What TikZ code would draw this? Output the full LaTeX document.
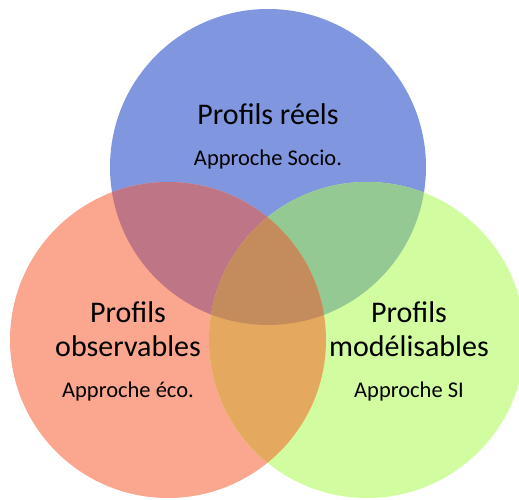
\documentclass[tikz,border=0pt]{standalone}
\usepackage{fontspec}
\setmainfont{Carlito}
\definecolor{reelblue}{RGB}{128, 151, 224}
\definecolor{obsred}{RGB}{251, 166, 142}
\definecolor{modgreen}{RGB}{209, 252, 159}
\definecolor{reelobs}{RGB}{190, 117, 133}
\definecolor{reelmod}{RGB}{148, 201, 148}
\definecolor{obsmod}{RGB}{228, 168, 94}
\definecolor{allthree}{RGB}{196, 140, 92}
\usetikzlibrary{positioning}
\tikzset{
  titlenode/.style={inner sep=0pt, align=center, font=\fontsize{30}{34}\selectfont, anchor=south},
  approchenode/.style={inner sep=0pt, font=\fontsize{22.5}{27}\selectfont},
}

\begin{document}
\begin{tikzpicture}[x=1pt, y=-1pt]
  \useasboundingbox (0,0) rectangle (519,500);
  \clip (0,0) rectangle (519,500);
  \coordinate (cr) at (268,167);
  \coordinate (co) at (168,340);
  \coordinate (cm) at (367,340);
  \def\rayon{158}
  % single circles
  \fill[reelblue] (cr) circle (\rayon);
  \fill[obsred] (co) circle (\rayon);
  \fill[modgreen] (cm) circle (\rayon);
  % pairwise overlaps
  \begin{scope}
    \clip (cr) circle (\rayon);
    \fill[reelobs] (co) circle (\rayon);
  \end{scope}
  \begin{scope}
    \clip (cr) circle (\rayon);
    \fill[reelmod] (cm) circle (\rayon);
  \end{scope}
  \begin{scope}
    \clip (co) circle (\rayon);
    \fill[obsmod] (cm) circle (\rayon);
  \end{scope}
  % centre
  \begin{scope}
    \clip (cr) circle (\rayon);
    \clip (co) circle (\rayon);
    \fill[allthree] (cm) circle (\rayon);
  \end{scope}
  % labels
  \node[titlenode] (reel) at (268,125) {Profils réels};
  \node[approchenode] (socio) [below=25pt of reel] {Approche Socio.};
  \node[titlenode] (obs) at (128,357) {Profils\\observables};
  \node[approchenode] (eco) [below=25pt of obs] {Approche éco.};
  \node[titlenode] (mod) at (409,357) {Profils\\modélisables};
  \node[approchenode] (si) [below=25pt of mod] {Approche SI};
\end{tikzpicture}
\end{document}
